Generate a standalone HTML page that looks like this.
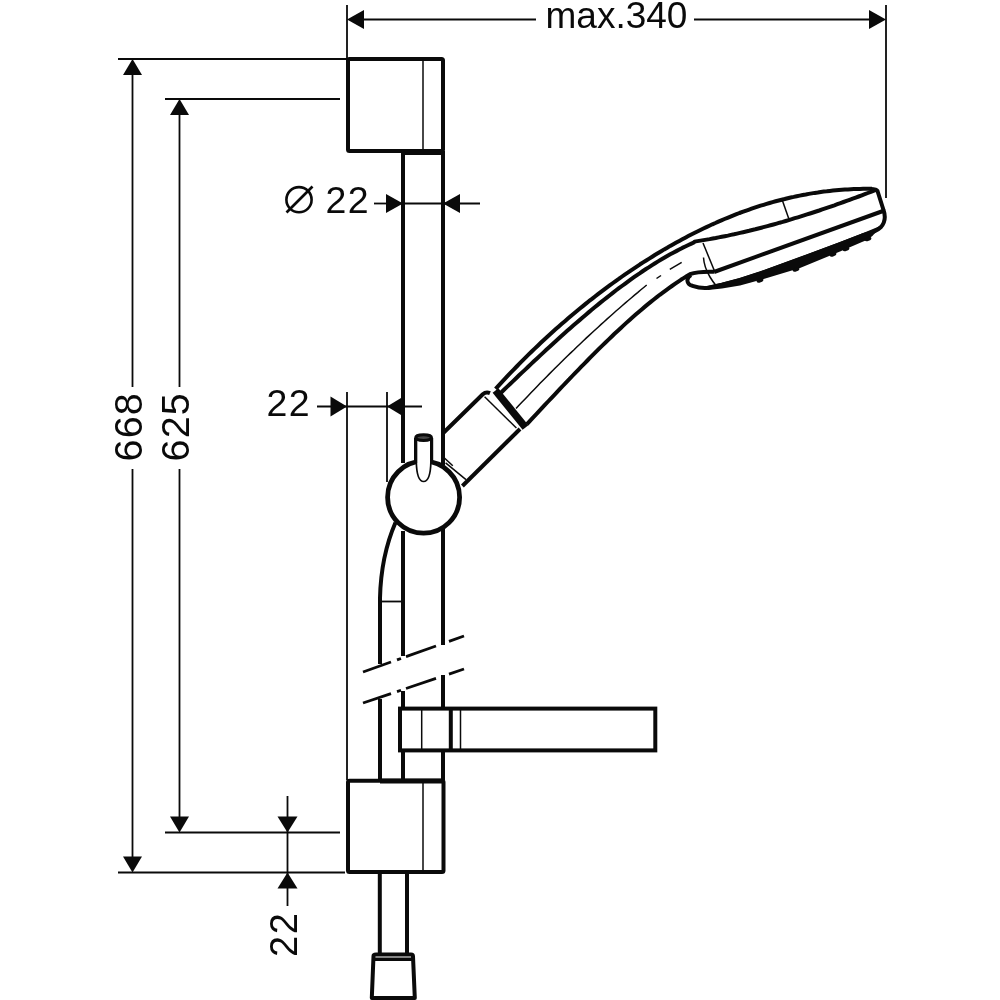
<!DOCTYPE html><html><head><meta charset="utf-8"><style>html,body{margin:0;padding:0;background:#fff;width:1000px;height:1000px;overflow:hidden}svg{display:block;will-change:transform}</style></head><body><svg width="1000" height="1000" viewBox="0 0 1000 1000"><g stroke="#0a0a0a" fill="none" stroke-linecap="butt" stroke-linejoin="round"><line x1="347" y1="5" x2="347" y2="59" stroke-width="1.8"/>
<line x1="886" y1="5" x2="886" y2="198" stroke-width="1.8"/>
<line x1="360" y1="19.5" x2="536" y2="19.5" stroke-width="1.8"/>
<line x1="694" y1="19.5" x2="872" y2="19.5" stroke-width="1.8"/>
<polygon points="347,19.5 364,10 364,29" fill="#0a0a0a" stroke="none"/>
<polygon points="886,19.5 869,10 869,29" fill="#0a0a0a" stroke="none"/>
<line x1="118" y1="59" x2="347" y2="59" stroke-width="1.8"/>
<line x1="165" y1="99" x2="340" y2="99" stroke-width="1.8"/>
<line x1="118" y1="872.5" x2="345" y2="872.5" stroke-width="1.8"/>
<line x1="165" y1="832.5" x2="340" y2="832.5" stroke-width="1.8"/>
<line x1="132.5" y1="70" x2="132.5" y2="387" stroke-width="1.8"/>
<line x1="132.5" y1="469" x2="132.5" y2="860" stroke-width="1.8"/>
<line x1="179.5" y1="110" x2="179.5" y2="387" stroke-width="1.8"/>
<line x1="179.5" y1="469" x2="179.5" y2="820" stroke-width="1.8"/>
<polygon points="132.5,59 123,75 142,75" fill="#0a0a0a" stroke="none"/>
<polygon points="132.5,872.5 123,856.5 142,856.5" fill="#0a0a0a" stroke="none"/>
<polygon points="179.5,99 170,115 189,115" fill="#0a0a0a" stroke="none"/>
<polygon points="179.5,832.5 170,816.5 189,816.5" fill="#0a0a0a" stroke="none"/>
<line x1="287.5" y1="796" x2="287.5" y2="906" stroke-width="1.8"/>
<polygon points="287.5,832.5 277.5,816.5 297.5,816.5" fill="#0a0a0a" stroke="none"/>
<polygon points="287.5,872.5 277.5,888.5 297.5,888.5" fill="#0a0a0a" stroke="none"/>
<line x1="374" y1="203.5" x2="403" y2="203.5" stroke-width="1.8"/>
<line x1="443" y1="203.5" x2="480" y2="203.5" stroke-width="1.8"/>
<line x1="403" y1="203.5" x2="443" y2="203.5" stroke-width="1.8"/>
<polygon points="403,203.5 386,194 386,213" fill="#0a0a0a" stroke="none"/>
<polygon points="443,203.5 460,194 460,213" fill="#0a0a0a" stroke="none"/>
<line x1="317" y1="406.5" x2="422" y2="406.5" stroke-width="1.8"/>
<line x1="347" y1="392" x2="347" y2="780" stroke-width="1.8"/>
<line x1="387" y1="392" x2="387" y2="482" stroke-width="1.8"/>
<polygon points="347,406.5 330.5,396.5 330.5,416.5" fill="#0a0a0a" stroke="none"/>
<polygon points="387,406.5 403.5,396.5 403.5,416.5" fill="#0a0a0a" stroke="none"/>
<line x1="403" y1="151" x2="403" y2="463" stroke-width="4"/>
<line x1="443" y1="151" x2="443" y2="465" stroke-width="4"/>
<line x1="403" y1="531" x2="403" y2="656" stroke-width="4"/>
<line x1="443" y1="528" x2="443" y2="645" stroke-width="4"/>
<line x1="403" y1="691" x2="403" y2="780" stroke-width="4"/>
<line x1="443" y1="675" x2="443" y2="780" stroke-width="4"/>
<path d="M395.5,522.5 Q381,556 380,598 L380,664" stroke-width="4" fill="none" />
<line x1="380" y1="699" x2="380" y2="780" stroke-width="4"/>
<line x1="380" y1="601.5" x2="403" y2="601.5" stroke-width="1.8"/>
<line x1="363" y1="672" x2="391" y2="662.02" stroke-width="2.8"/>
<line x1="397" y1="659.881" x2="401" y2="658.455" stroke-width="2.8"/>
<line x1="406" y1="656.673" x2="436" y2="645.98" stroke-width="2.8"/>
<line x1="449" y1="641.347" x2="464" y2="636" stroke-width="2.8"/>
<line x1="363" y1="703" x2="391" y2="693.574" stroke-width="2.8"/>
<line x1="397" y1="691.554" x2="401" y2="690.208" stroke-width="2.8"/>
<line x1="406" y1="688.525" x2="436" y2="678.426" stroke-width="2.8"/>
<line x1="449" y1="674.05" x2="464" y2="669" stroke-width="2.8"/>
<rect x="348" y="59" width="95" height="92" stroke-width="4" fill="none" rx="1.5"/>
<line x1="423" y1="59" x2="423" y2="151" stroke-width="1.5"/>
<rect x="348" y="780.8" width="95.5" height="91.2" stroke-width="4" fill="none" rx="1.5"/>
<line x1="423" y1="780" x2="423" y2="872.5" stroke-width="1.5"/>
<line x1="403" y1="152" x2="443" y2="152" stroke-width="6"/>
<line x1="380" y1="781" x2="443" y2="781" stroke-width="5"/>
<line x1="379.8" y1="872" x2="379.8" y2="955" stroke-width="4"/>
<line x1="407" y1="872" x2="407" y2="955" stroke-width="4"/>
<path d="M373.5,956 Q373.5,954.5 376,954.5 L411,954.5 Q413,954.5 413,956.5 L414.8,998 L371.8,998 Z" stroke-width="4" fill="none" />
<line x1="374" y1="959.2" x2="413" y2="959.2" stroke-width="3.4"/>
<line x1="371.8" y1="998.5" x2="414.8" y2="998.5" stroke-width="5"/>
<rect x="400" y="708.6" width="255.3" height="41.8" stroke-width="4" fill="#fff" stroke-linejoin="miter"/>
<line x1="421.7" y1="708.5" x2="421.7" y2="750.5" stroke-width="1.5"/>
<line x1="450.8" y1="708.5" x2="450.8" y2="750.5" stroke-width="4"/>
<line x1="460.5" y1="708.5" x2="460.5" y2="750.5" stroke-width="1.5"/>
<path d="M443,433.3 L482.8,394.3 Q486,391.5 490,393.2" stroke-width="4" fill="none" />
<path d="M462.4,486 L520,429" stroke-width="4" fill="none" />
<line x1="484.6" y1="396.8" x2="516.4" y2="428" stroke-width="1.5"/>
<line x1="444.4" y1="458" x2="452.8" y2="465.8" stroke-width="1.5"/>
<line x1="445.6" y1="462.8" x2="466" y2="479.6" stroke-width="1.5"/>
<line x1="495.5" y1="390.5" x2="525.5" y2="427.5" stroke-width="7.5"/>
<circle cx="423.6" cy="497.2" r="36" stroke-width="4.8" fill="#fff"/>
<path d="M416.3,438 L416.3,462 Q416.8,481.5 423.6,481.5 Q430.4,481.5 430.9,462 L430.9,438 Z" stroke-width="1.7" fill="#fff" />
<line x1="415.6" y1="438" x2="415.6" y2="463" stroke-width="3.2"/>
<line x1="431.6" y1="438" x2="431.6" y2="463" stroke-width="3.2"/>
<ellipse cx="423.6" cy="437.6" rx="7.9" ry="2.9" stroke-width="3" fill="#444"/>
<path d="M495.6,388.9 L498.6,385.6 L501.6,382.3 L504.6,379.1 L507.6,375.9 L510.7,372.7 L513.7,369.6 L516.7,366.5 L519.7,363.4 L522.7,360.4 L525.7,357.4 L528.7,354.4 L531.7,351.5 L534.7,348.6 L537.8,345.7 L540.8,342.8 L543.8,340.0 L546.8,337.2 L549.8,334.5 L552.8,331.8 L555.8,329.1 L558.8,326.4 L561.8,323.8 L564.9,321.2 L567.9,318.6 L570.9,316.0 L573.9,313.5 L576.9,311.0 L579.9,308.5 L582.9,306.1 L585.9,303.6 L588.9,301.2 L592.0,298.9 L595.0,296.5 L598.0,294.2 L601.0,291.9 L604.0,289.6 L607.0,287.4 L610.0,285.2 L613.0,283.0 L616.0,280.8 L619.1,278.7 L622.1,276.5 L625.1,274.4 L628.1,272.4 L631.1,270.3 L634.1,268.3 L637.1,266.3 L640.1,264.3 L643.1,262.4 L646.2,260.5 L649.2,258.6 L652.2,256.7 L655.2,254.8 L658.2,253.0 L661.2,251.2 L664.2,249.4 L667.2,247.7 L670.2,245.9 L673.3,244.2 L676.3,242.5 L679.3,240.9 L682.3,239.3 L685.3,237.7 L688.3,236.1 L691.3,234.5 L694.3,233.0 L697.4,231.5 L700.4,230.0 L703.4,228.5 L706.4,227.1 L709.4,225.7 L712.4,224.3 L715.4,223.0 L718.4,221.6 L721.4,220.3 L724.5,219.0 L727.5,217.8 L730.5,216.6 L733.5,215.4 L736.5,214.2 L739.5,213.0 L742.5,211.9 L745.5,210.8 L748.5,209.8 L751.6,208.7 L754.6,207.7 L757.6,206.7 L760.6,205.7 L763.6,204.8 L766.6,203.9 L769.6,203.0 L772.6,202.1 L775.6,201.3 L778.7,200.5 L781.7,199.7 L784.7,199.0 L787.7,198.2 L790.7,197.5 L793.7,196.9 L796.7,196.2 L799.7,195.6 L802.7,195.0 L805.8,194.5 L808.8,193.9 L811.8,193.4 L814.8,192.9 L817.8,192.5 L820.8,192.0 L823.8,191.6 L826.8,191.3 L829.8,190.9 L832.9,190.6 L835.9,190.3 L838.9,190.0 L841.9,189.8 L844.9,189.6 L847.9,189.4 L850.9,189.2 L853.9,189.1 L856.9,189.0 L860.0,188.9 L863.0,188.8 L866.0,188.8 L869.0,188.7 L872.0,188.8" stroke-width="4" fill="none" />
<path d="M501.0,392.7 L504.0,389.8 L507.0,386.9 L510.1,384.0 L513.1,381.1 L516.1,378.2 L519.1,375.3 L522.2,372.4 L525.2,369.6 L528.2,366.7 L531.2,363.9 L534.2,361.0 L537.3,358.2 L540.3,355.4 L543.3,352.6 L546.3,349.8 L549.4,347.0 L552.4,344.2 L555.4,341.5 L558.4,338.7 L561.4,336.0 L564.5,333.3 L567.5,330.6 L570.5,327.9 L573.5,325.3 L576.5,322.7 L579.6,320.1 L582.6,317.5 L585.6,314.9 L588.6,312.4 L591.7,309.8 L594.7,307.3 L597.7,304.9 L600.7,302.4 L603.7,300.0 L606.8,297.6 L609.8,295.2 L612.8,292.9 L615.8,290.5 L618.9,288.2 L621.9,286.0 L624.9,283.8 L627.9,281.6 L630.9,279.4 L634.0,277.2 L637.0,275.1 L640.0,273.1 L643.0,271.0 L646.0,269.0 L649.1,267.1 L652.1,265.1 L655.1,263.2 L658.1,261.4 L661.2,259.6 L664.2,257.8 L667.2,256.0 L670.2,254.3 L673.2,252.7 L676.3,251.1 L679.3,249.5 L682.3,247.9 L685.3,246.5 L688.4,245.0 L691.4,243.6 L694.4,242.2 L694.4,241.6 L697.4,241.1 L700.5,240.6 L703.5,240.1 L706.6,239.6 L709.6,239.1 L712.7,238.5 L715.7,238.0 L718.7,237.4 L721.8,236.8 L724.8,236.2 L727.9,235.6 L730.9,234.9 L734.0,234.3 L737.0,233.6 L740.0,232.9 L743.1,232.2 L746.1,231.5 L749.2,230.8 L752.2,230.0 L755.3,229.3 L758.3,228.5 L761.4,227.7 L764.4,226.9 L767.4,226.1 L770.5,225.3 L773.5,224.5 L776.6,223.6 L779.6,222.7 L782.7,221.9 L785.7,221.0 L788.7,220.1 L791.8,219.2 L794.8,218.2 L797.9,217.3 L800.9,216.4 L804.0,215.4 L807.0,214.4 L810.0,213.5 L813.1,212.5 L816.1,211.5 L819.2,210.5 L822.2,209.4 L825.3,208.4 L828.3,207.4 L831.4,206.3 L834.4,205.3 L837.4,204.2 L840.5,203.1 L843.5,202.0 L846.6,200.9 L849.6,199.8 L852.7,198.7 L855.7,197.6 L858.7,196.5 L861.8,195.3 L864.8,194.2 L867.9,193.0 L870.9,191.9 L874.0,190.7 L877.0,189.5" stroke-width="4" fill="none" />
<path d="M516.0,408.6 L519.0,405.3 L522.1,402.1 L525.1,398.9 L528.2,395.7 L531.2,392.5 L534.2,389.4 L537.3,386.2 L540.3,383.1 L543.4,380.0 L546.4,376.9 L549.4,373.9 L552.5,370.8 L555.5,367.8 L558.6,364.8 L561.6,361.8 L564.6,358.8 L567.7,355.8 L570.7,352.9 L573.8,350.0 L576.8,347.0 L579.8,344.2 L582.9,341.3 L585.9,338.4 L588.9,335.6 L592.0,332.8 L595.0,330.0 L598.1,327.2 L601.1,324.4 L604.1,321.7 L607.2,318.9 L610.2,316.2 L613.3,313.5 L616.3,310.8 L619.3,308.2 L622.4,305.5 L625.4,302.9 L628.5,300.3 L631.5,297.7 L634.5,295.1 L637.6,292.6 L640.6,290.0 L643.7,287.5 L646.7,285.0" stroke-width="1.5" fill="none" />
<line x1="656.5" y1="278.5" x2="661" y2="275.5" stroke-width="1.5"/>
<line x1="669.8" y1="269.3" x2="681.7" y2="262.3" stroke-width="1.5"/>
<path d="M527.0,424.1 L530.0,420.8 L533.0,417.6 L536.1,414.4 L539.1,411.2 L542.1,407.9 L545.1,404.7 L548.1,401.5 L551.1,398.3 L554.2,395.1 L557.2,391.9 L560.2,388.7 L563.2,385.5 L566.2,382.3 L569.3,379.2 L572.3,376.0 L575.3,372.9 L578.3,369.8 L581.3,366.7 L584.4,363.6 L587.4,360.5 L590.4,357.4 L593.4,354.4 L596.4,351.4 L599.4,348.4 L602.5,345.4 L605.5,342.5 L608.5,339.6 L611.5,336.7 L614.5,333.8 L617.6,331.0 L620.6,328.2 L623.6,325.4 L626.6,322.6 L629.6,319.9 L632.6,317.3 L635.7,314.6 L638.7,312.0 L641.7,309.4 L644.7,306.9 L647.7,304.4 L650.8,301.9 L653.8,299.5 L656.8,297.2 L659.8,294.8 L662.8,292.6 L665.9,290.3 L668.9,288.1 L671.9,286.0 L674.9,283.9 L677.9,281.8 L680.9,279.8 L684.0,277.9 L687.0,276.0 L690.0,274.2 Q698,271.3 714,271.8" stroke-width="4" fill="none" />
<path d="M691,275 C686,278 686,284 692.5,285.8 Q700,288.5 707,288 L722,284.8 L740,280 L760,273.5 L800,259 L840,244 L862,235.5 Q876,232 881,227 Q887,220 883.5,210 L877.5,191 Q876,189 871,189" stroke-width="4" fill="none" />
<path d="M714,272 L883,211" stroke-width="4" fill="none" />
<path d="M708,286 L722,282.8 L740,278 L760,271.5 L800,257 L840,242 L862,233.5 L879,226.5 Q874,238 862,242 L840,251.5 L800,268 L760,280 L740,285.6 L722,288.6 L708,290 Z" fill="#0a0a0a" stroke="none"/>
<ellipse cx="760.0" cy="280.5" rx="3.5" ry="2" transform="rotate(-21 760.0 280.5)" fill="#0a0a0a" stroke="none"/>
<ellipse cx="796.0" cy="269.5" rx="3.5" ry="2" transform="rotate(-21 796.0 269.5)" fill="#0a0a0a" stroke="none"/>
<ellipse cx="833.0" cy="254.5" rx="3.5" ry="2" transform="rotate(-21 833.0 254.5)" fill="#0a0a0a" stroke="none"/>
<ellipse cx="846.0" cy="249.0" rx="3.5" ry="2" transform="rotate(-21 846.0 249.0)" fill="#0a0a0a" stroke="none"/>
<ellipse cx="868.0" cy="239.0" rx="3.5" ry="2" transform="rotate(-21 868.0 239.0)" fill="#0a0a0a" stroke="none"/>
<line x1="703" y1="243" x2="714.5" y2="271" stroke-width="1.5"/>
<path d="M703.5,257.5 C704,266 707,272 710,277 Q713,282 716,285.5" stroke-width="1.5" fill="none" />
<line x1="782.4" y1="200.4" x2="788.8" y2="218.8" stroke-width="1.5"/></g><text x="545.5" y="28" font-size="37" font-family="Liberation Sans, sans-serif" fill="#0a0a0a">max.340</text>
<circle cx="299" cy="199.7" r="12.6" fill="none" stroke="#0a0a0a" stroke-width="2.6"/>
<line x1="286.5" y1="212.5" x2="312.5" y2="186.5" stroke="#0a0a0a" stroke-width="2.6"/>
<text x="325.5" y="213" font-size="37.5" letter-spacing="1.3" font-family="Liberation Sans, sans-serif" fill="#0a0a0a">22</text>
<text x="266.5" y="415.5" font-size="37.5" letter-spacing="1.3" font-family="Liberation Sans, sans-serif" fill="#0a0a0a">22</text>
<text transform="translate(142,461.5) rotate(-90)" font-size="39.5" letter-spacing="1.2" font-family="Liberation Sans, sans-serif" fill="#0a0a0a">668</text>
<text transform="translate(189,461.5) rotate(-90)" font-size="39.5" letter-spacing="1.2" font-family="Liberation Sans, sans-serif" fill="#0a0a0a">625</text>
<text transform="translate(297,957) rotate(-90)" font-size="38" letter-spacing="1.5" font-family="Liberation Sans, sans-serif" fill="#0a0a0a">22</text></svg></body></html>
